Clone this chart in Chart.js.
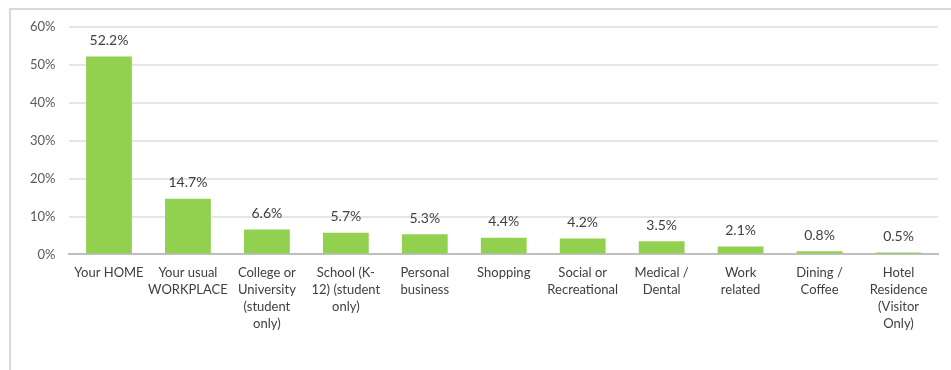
<!DOCTYPE html>
<html>
<head>
<meta charset="utf-8">
<script src="https://cdn.jsdelivr.net/npm/chart.js@4.4.0/dist/chart.umd.min.js"></script>
<style>
  body { margin: 0; background: #fff; }
  #box {
    position: absolute; left: 9px; top: 8px; width: 940px; height: 362px;
    border-top: 2px solid #d9d9d9; border-left: 2px solid #d9d9d9;
  }
</style>
</head>
<body>
<div id="box"><canvas id="myChart"></canvas></div>
<script>
var labels = [
  ['Your HOME'],
  ['Your usual', 'WORKPLACE'],
  ['College or', 'University', '(student', 'only)'],
  ['School (K-', '12) (student', 'only)'],
  ['Personal', 'business'],
  ['Shopping'],
  ['Social or', 'Recreational'],
  ['Medical /', 'Dental'],
  ['Work', 'related'],
  ['Dining /', 'Coffee'],
  ['Hotel', 'Residence', '(Visitor', 'Only)']
];
var values = [52.2, 14.7, 6.6, 5.7, 5.3, 4.4, 4.2, 3.5, 2.1, 0.8, 0.5];
var yTicks = [0, 10, 20, 30, 40, 50, 60];

// labels above the bars
var barLabels = {
  id: 'barLabels',
  afterDatasetsDraw: function (chart) {
    var ctx = chart.ctx;
    var meta = chart.getDatasetMeta(0);
    ctx.save();
    ctx.font = '14px Lato';
    ctx.fillStyle = '#404040';
    ctx.textAlign = 'center';
    ctx.textBaseline = 'bottom';
    meta.data.forEach(function (bar, i) {
      ctx.fillText(values[i].toFixed(1) + '%', bar.x, bar.y - 9);
    });
    ctx.restore();
  }
};

var ctx = document.getElementById('myChart');
var myChart = new Chart(ctx, {
  type: 'bar',
  data: {
    labels: labels,
    datasets: [{
      data: values,
      backgroundColor: '#92d050',
      categoryPercentage: 1,
      barPercentage: 0.58
    }]
  },
  options: {
    responsive: true,
    maintainAspectRatio: false,
    animation: false,
    layout: { padding: { left: 5, right: 13, top: 17, bottom: 38 } },
    plugins: { legend: { display: false }, tooltip: { enabled: false } },
    scales: {
      x: {
        grid: { display: false },
        border: { color: '#bfbfbf', width: 2 },
        ticks: {
          color: '#404040', font: { family: 'Lato', size: 13, lineHeight: 1.3 },
          maxRotation: 0, autoSkip: false, padding: 2
        }
      },
      y: {
        min: 0, max: 60,
        afterBuildTicks: function (scale) {
          scale.ticks = yTicks.map(function (v) { return { value: v }; });
        },
        afterFit: function (scale) {
          scale.paddingTop = 8;
        },
        grid: { color: '#e6e6e6', lineWidth: 2, drawTicks: false },
        border: { display: false },
        ticks: {
          color: '#595959', font: { family: 'Lato', size: 13 }, padding: 14,
          callback: function (v) { return v + '%'; }
        }
      }
    }
  },
  plugins: [barLabels]
});
</script>
</body>
</html>
